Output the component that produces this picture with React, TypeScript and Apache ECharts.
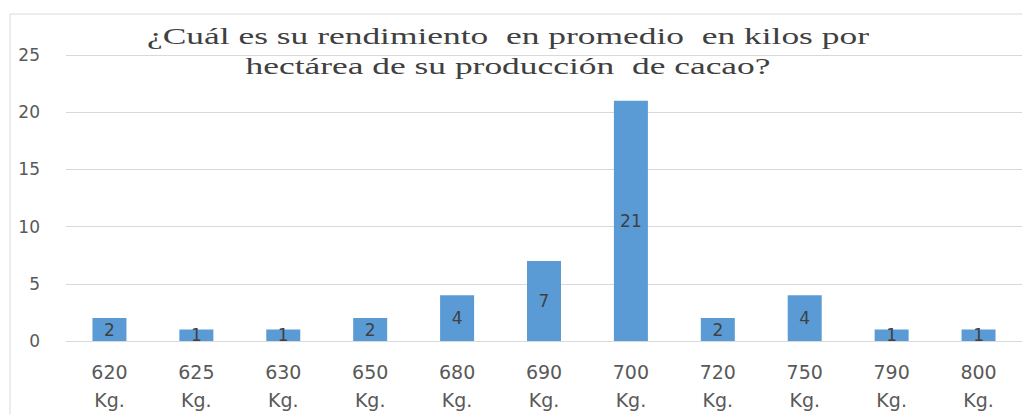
import React, { useEffect, useRef } from "react";
import * as echarts from "echarts";

const categories = ["620\nKg.", "625\nKg.", "630\nKg.", "650\nKg.", "680\nKg.", "690\nKg.", "700\nKg.", "720\nKg.", "750\nKg.", "790\nKg.", "800\nKg."];
const values = [2, 1, 1, 2, 4, 7, 21, 2, 4, 1, 1];
const titleText = "¿Cuál es su rendimiento  en promedio  en kilos por\nhectárea de su producción  de cacao?";
const yMin = 0;
const yMax = 25;
const yInterval = 5;

export default function App() {
  const ref = useRef<HTMLDivElement>(null);
  useEffect(() => {
    document.body.style.margin = "0";
    const chart = echarts.init(ref.current!, null, { renderer: "svg" });
    chart.setOption({
      animation: false,
      backgroundColor: "#ffffff",
      grid: { left: 66, right: -10, top: 55, bottom: 70, containLabel: false },
      graphic: [
        {
          type: "rect",
          shape: { x: 10, y: 14, width: 1040, height: 420 },
          style: { fill: "none", stroke: "#d9d9d9", lineWidth: 1 },
          silent: true,
        },
        {
          type: "text",
          x: 508,
          y: 21,
          scaleX: 1.54,
          style: {
            text: titleText,
            font: "23px 'Liberation Serif', serif",
            fill: "#404040",
            textAlign: "center",
            textVerticalAlign: "top",
            lineHeight: 30,
          },
          silent: true,
        },
      ],
      xAxis: {
        type: "category",
        data: categories,
        axisLine: { show: false },
        axisTick: { show: false },
        axisLabel: {
          color: "#595959",
          fontFamily: "DejaVu Sans",
          fontSize: 19,
          lineHeight: 28,
          margin: 17,
          interval: 0,
        },
      },
      yAxis: {
        type: "value",
        min: yMin,
        max: yMax,
        interval: yInterval,
        axisLine: { show: false },
        axisTick: { show: false },
        splitLine: { lineStyle: { color: "#d9d9d9", width: 1 } },
        axisLabel: {
          color: "#595959",
          fontFamily: "DejaVu Sans",
          fontSize: 17,
          margin: 26,
        },
      },
      series: [
        {
          type: "bar",
          data: values,
          barWidth: 34,
          itemStyle: { color: "#5B9BD5" },
          label: {
            show: true,
            position: "inside",
            color: "#404040",
            fontFamily: "DejaVu Sans",
            fontSize: 17,
          },
        },
      ],
    });
    return () => chart.dispose();
  }, []);
  return <div ref={ref} style={{ width: 1022, height: 414 }} />;
}
